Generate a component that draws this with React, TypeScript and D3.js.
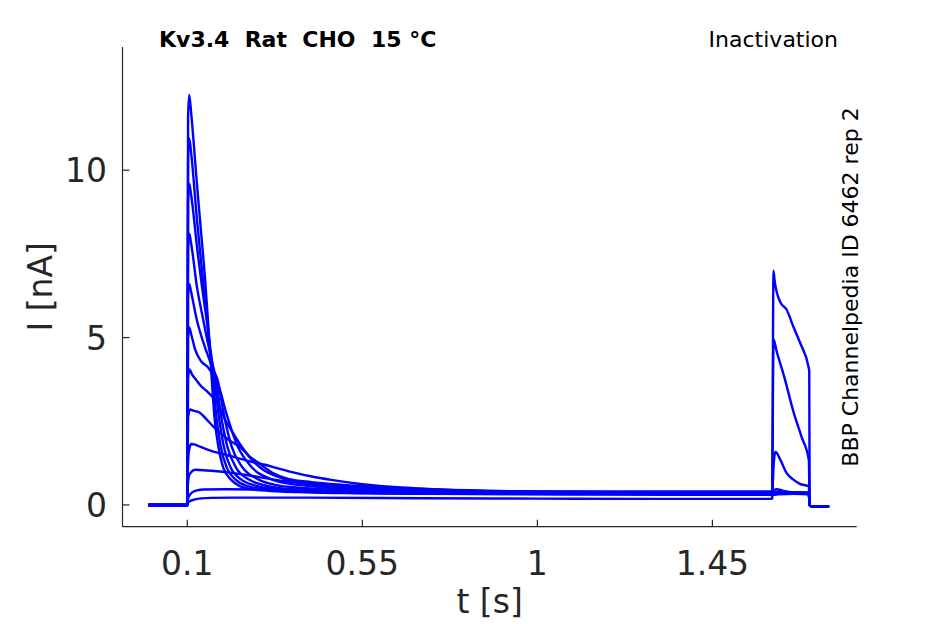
import React from "react";
import * as d3 from "d3";

type Pt = [number, number]; // [t in s, I in nA]

// traces ordered from the largest first-pulse peak to the smallest
const trace1: Pt[] = [
    [0, 0], [0.1, 0], [0.102, 11.6], [0.105, 12.25], [0.11, 11.7], [0.124, 9.7], [0.135, 8.2],
    [0.146, 6.7], [0.155, 5.2], [0.163, 3.73], [0.17, 2.6], [0.18, 1.74], [0.193, 1.1], [0.213, 0.75],
    [0.235, 0.56], [0.27, 0.46], [0.33, 0.41], [0.4, 0.38], [0.55, 0.35], [0.7, 0.33], [1.0, 0.32],
    [1.3, 0.31], [1.6, 0.3], [1.604, 0.3], [1.62, 0.32], [1.66, 0.33], [1.698, 0.33], [1.7, 0],
    [1.705, -0.04], [1.75, -0.04],
];
const trace2: Pt[] = [
    [0, 0], [0.1, 0], [0.102, 10.4], [0.105, 10.95], [0.11, 10.5], [0.125, 8.5], [0.136, 7.2],
    [0.147, 6.0], [0.157, 4.8], [0.166, 3.73], [0.175, 2.6], [0.186, 1.74], [0.202, 1.1], [0.225, 0.75],
    [0.255, 0.56], [0.29, 0.48], [0.35, 0.42], [0.45, 0.38], [0.6, 0.35], [0.8, 0.33], [1.1, 0.32],
    [1.4, 0.31], [1.6, 0.3], [1.604, 0.31], [1.62, 0.33], [1.66, 0.33], [1.698, 0.32], [1.7, 0],
    [1.705, -0.04], [1.75, -0.04],
];
const trace3: Pt[] = [
    [0, 0], [0.1, 0], [0.102, 9.1], [0.105, 9.6], [0.11, 9.25], [0.127, 7.5], [0.138, 6.5],
    [0.15, 5.5], [0.16, 4.6], [0.17, 3.73], [0.181, 2.65], [0.194, 1.74], [0.212, 1.1], [0.24, 0.75],
    [0.275, 0.58], [0.31, 0.5], [0.38, 0.43], [0.5, 0.38], [0.7, 0.35], [1.0, 0.33], [1.3, 0.32],
    [1.6, 0.31], [1.604, 0.31], [1.62, 0.34], [1.66, 0.34], [1.698, 0.33], [1.7, 0],
    [1.705, -0.04], [1.75, -0.04],
];
const trace4: Pt[] = [
    [0, 0], [0.1, 0], [0.102, 7.7], [0.105, 8.1], [0.11, 7.8], [0.125, 6.5], [0.138, 5.7],
    [0.15, 5.0], [0.162, 4.35], [0.174, 3.73], [0.187, 2.65], [0.203, 1.74], [0.226, 1.1], [0.26, 0.75],
    [0.3, 0.58], [0.34, 0.5], [0.42, 0.44], [0.55, 0.39], [0.75, 0.36], [1.0, 0.34], [1.3, 0.33],
    [1.6, 0.32], [1.604, 0.32], [1.62, 0.35], [1.66, 0.34], [1.698, 0.33], [1.7, 0],
    [1.705, -0.04], [1.75, -0.04],
];
const trace5: Pt[] = [
    [0, 0], [0.1, 0], [0.102, 6.3], [0.105, 6.6], [0.11, 6.35], [0.125, 5.5], [0.14, 4.9],
    [0.155, 4.4], [0.166, 4.05], [0.178, 3.73], [0.194, 2.7], [0.214, 1.74], [0.24, 1.15], [0.285, 0.75],
    [0.325, 0.6], [0.38, 0.52], [0.46, 0.46], [0.6, 0.4], [0.8, 0.37], [1.1, 0.35], [1.6, 0.33],
    [1.604, 0.33], [1.62, 0.36], [1.66, 0.35], [1.698, 0.34], [1.7, 0], [1.705, -0.04], [1.75, -0.04],
];
const trace6: Pt[] = [
    [0, 0], [0.1, 0], [0.102, 5.0], [0.105, 5.3], [0.11, 5.1], [0.12, 4.65], [0.135, 4.3],
    [0.154, 4.1], [0.168, 3.85], [0.182, 3.5], [0.2, 2.75], [0.23, 1.74], [0.26, 1.2], [0.32, 0.75],
    [0.37, 0.62], [0.43, 0.55], [0.5, 0.48], [0.65, 0.42], [0.85, 0.38], [1.1, 0.36], [1.6, 0.34],
    [1.604, 0.34], [1.62, 0.37], [1.66, 0.36], [1.698, 0.35], [1.7, 0], [1.705, -0.04], [1.75, -0.04],
];
const trace7: Pt[] = [
    [0, 0], [0.1, 0], [0.102, 3.8], [0.106, 4.05], [0.112, 3.9], [0.122, 3.75], [0.133, 3.58],
    [0.15, 3.4], [0.167, 3.2], [0.182, 2.95], [0.195, 2.6], [0.215, 2.2], [0.24, 1.74], [0.27, 1.3],
    [0.295, 1.05], [0.33, 0.85], [0.355, 0.75], [0.4, 0.66], [0.45, 0.6], [0.55, 0.52], [0.7, 0.45],
    [0.9, 0.4], [1.2, 0.37], [1.6, 0.35], [1.604, 0.35], [1.62, 0.38], [1.66, 0.37], [1.698, 0.36],
    [1.7, 0], [1.705, -0.04], [1.75, -0.04],
];
const trace8: Pt[] = [
    [0, 0], [0.1, 0], [0.102, 2.6], [0.107, 2.85], [0.115, 2.82], [0.133, 2.75], [0.15, 2.55],
    [0.167, 2.34], [0.185, 2.15], [0.2, 2.0], [0.215, 1.88], [0.235, 1.74], [0.26, 1.45], [0.29, 1.2],
    [0.32, 0.95], [0.36, 0.78], [0.42, 0.68], [0.5, 0.6], [0.6, 0.53], [0.75, 0.46], [1.0, 0.4],
    [1.3, 0.37], [1.6, 0.36], [1.604, 0.36], [1.62, 0.4], [1.66, 0.38], [1.698, 0.37], [1.7, 0],
    [1.705, -0.04], [1.75, -0.04],
];
const trace9: Pt[] = [
    [0, 0], [0.1, 0], [0.101, 0.9], [0.104, 1.6], [0.11, 1.82], [0.12, 1.8], [0.133, 1.74],
    [0.15, 1.66], [0.167, 1.59], [0.2, 1.5], [0.23, 1.4], [0.26, 1.3], [0.3, 1.2], [0.34, 1.07],
    [0.38, 0.95], [0.42, 0.85], [0.47, 0.75], [0.55, 0.62], [0.65, 0.52], [0.73, 0.47], [0.85, 0.42],
    [1.0, 0.39], [1.2, 0.37], [1.4, 0.36], [1.6, 0.36], [1.604, 0.36], [1.606, 0.42], [1.615, 0.47],
    [1.63, 0.43], [1.65, 0.38], [1.698, 0.36], [1.7, 0], [1.705, -0.04], [1.75, -0.04],
];
const trace10: Pt[] = [
    [0, 0], [0.1, 0], [0.101, 0.5], [0.104, 0.85], [0.11, 0.98], [0.12, 1.05], [0.15, 1.03],
    [0.19, 0.99], [0.22, 0.95], [0.26, 0.88], [0.3, 0.8], [0.35, 0.71], [0.39, 0.65], [0.45, 0.57],
    [0.55, 0.49], [0.65, 0.43], [0.73, 0.4], [0.85, 0.38], [1.0, 0.36], [1.3, 0.35], [1.6, 0.34],
    [1.604, 0.35], [1.607, 1.1], [1.612, 1.59], [1.625, 1.34], [1.641, 0.95], [1.659, 0.75],
    [1.675, 0.63], [1.698, 0.55], [1.7, 0], [1.705, -0.04], [1.75, -0.04],
];
const trace11: Pt[] = [
    [0, 0], [0.1, 0], [0.101, 0.12], [0.104, 0.25], [0.11, 0.35], [0.12, 0.42], [0.14, 0.46],
    [0.2, 0.47], [0.3, 0.46], [0.45, 0.44], [0.6, 0.42], [0.8, 0.41], [1.0, 0.4], [1.3, 0.4],
    [1.6, 0.4], [1.604, 0.4], [1.606, 4.0], [1.607, 4.95], [1.615, 4.6], [1.637, 3.73], [1.657, 2.84],
    [1.679, 2.04], [1.698, 1.34], [1.7, 0], [1.705, -0.04], [1.75, -0.04],
];
const trace12: Pt[] = [
    [0, 0], [0.1, 0], [0.101, 0.05], [0.105, 0.1], [0.115, 0.15], [0.13, 0.19], [0.16, 0.21],
    [0.22, 0.22], [0.4, 0.22], [0.7, 0.2], [1.0, 0.19], [1.3, 0.18], [1.6, 0.18], [1.604, 0.2],
    [1.606, 5.5], [1.607, 7.0], [1.61, 6.7], [1.624, 6.07], [1.641, 5.83], [1.658, 5.33],
    [1.676, 4.83], [1.697, 4.13], [1.699, 4.0], [1.7, 0], [1.705, -0.04], [1.75, -0.04],
];

const traces = [trace1, trace2, trace3, trace4, trace5, trace6, trace7, trace8, trace9, trace10, trace11, trace12];

const xTicks = [0.1, 0.55, 1, 1.45];
const yTicks = [0, 5, 10];

const W = 945;
const H = 624;
const font = "DejaVu Sans, sans-serif";
const ink = "#262626";

export default function App() {
    const x = d3.scaleLinear().domain([-0.0666, 1.821]).range([122.5, 856.7]);
    const y = d3.scaleLinear().domain([-0.65, 13.68]).range([526.7, 47]);
    const [x0, x1] = x.range();
    const [y0, y1] = y.range();

    const line = d3
        .line<Pt>()
        .x((d) => x(d[0]))
        .y((d) => y(d[1]))
        .curve(d3.curveMonotoneX);

    return (
        <svg
            width={W}
            height={H}
            style={{ position: "absolute", left: 0, top: 0, background: "#fff" }}
            fontFamily={font}
        >
            <rect width={W} height={H} fill="#fff" />

            {traces.map((tr, i) => (
                <path key={i} d={line(tr) ?? ""} fill="none" stroke="#0000ff" strokeWidth={2.4} strokeLinejoin="round" />
            ))}

            {/* axes, box off, ticks pointing in */}
            <g stroke={ink} strokeWidth={1.2} fill="none">
                <line x1={x0} x2={x0} y1={y0} y2={y1} />
                <line x1={x0} x2={x1} y1={y0} y2={y0} />
                {xTicks.map((t) => (
                    <line key={t} x1={x(t)} x2={x(t)} y1={y0} y2={y0 - 7} />
                ))}
                {yTicks.map((t) => (
                    <line key={t} x1={x0} x2={x0 + 7} y1={y(t)} y2={y(t)} />
                ))}
            </g>

            <g fill={ink} fontSize={33}>
                {xTicks.map((t) => (
                    <text key={t} x={x(t)} y={575} textAnchor="middle">
                        {String(t)}
                    </text>
                ))}
                {yTicks.map((t) => (
                    <text key={t} x={107} y={y(t) + 12} textAnchor="end">
                        {String(t)}
                    </text>
                ))}
                <text x={(x0 + x1) / 2} y={613} textAnchor="middle">t [s]</text>
                <text transform={`translate(52,${(y0 + y1) / 2}) rotate(-90)`} textAnchor="middle">I [nA]</text>
            </g>

            <text x={159} y={47} fontSize={22} fontWeight="bold" fill="#000" style={{ whiteSpace: "pre" }}>
                {"Kv3.4  Rat  CHO  15 °C"}
            </text>
            <text x={838} y={47} fontSize={22} textAnchor="end" fill="#000">Inactivation</text>
            <text transform="translate(858,287) rotate(-90)" fontSize={22} textAnchor="middle" fill="#000">
                BBP Channelpedia ID 6462 rep 2
            </text>
        </svg>
    );
}
